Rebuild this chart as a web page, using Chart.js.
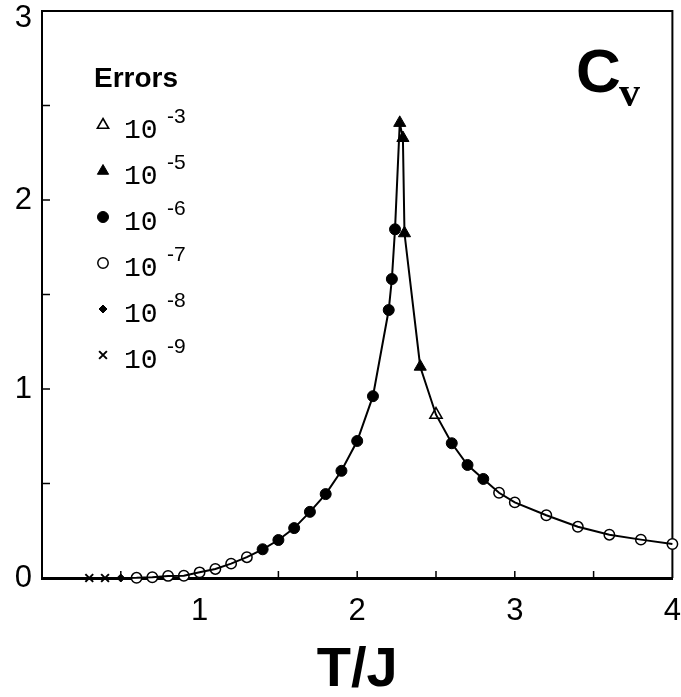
<!DOCTYPE html>
<html><head><meta charset="utf-8">
<script src="https://cdn.jsdelivr.net/npm/chart.js@4.4.1/dist/chart.umd.min.js"></script>
<style>html,body{margin:0;padding:0;background:#fff;}canvas{display:block;}</style>
</head><body>
<canvas id="c" width="681" height="697"></canvas>
<script>
// ---- data ----
const temperatures = [0.3,0.4,0.5,0.6,0.7,0.8,0.9,1.0,1.1,1.2,1.3,1.4,1.5,1.6,1.7,1.8,1.9,2.0,2.1,2.2,2.22,2.24,2.27,2.29,2.30,2.4,2.5,2.6,2.7,2.8,2.9,3.0,3.2,3.4,3.6,3.8,4.0];
const specificHeat = [0,0,0,0.001,0.004,0.011,0.012,0.03,0.048,0.076,0.11,0.152,0.201,0.264,0.35,0.444,0.567,0.725,0.962,1.418,1.582,1.845,2.408,2.328,1.824,1.118,0.864,0.713,0.598,0.524,0.451,0.40,0.332,0.271,0.229,0.203,0.18];
const errorExponent = [-9,-9,-8,-7,-7,-7,-7,-7,-7,-7,-7,-6,-6,-6,-6,-6,-6,-6,-6,-6,-6,-6,-5,-5,-5,-5,-3,-6,-6,-6,-7,-7,-7,-7,-7,-7,-7];
const legendExponents = [-3,-5,-6,-7,-8,-9];
const xTickValues = [1,2,3,4];
const yTickValues = [0,1,2,3];
const minorTickValuesX = [0.5,1,1.5,2,2.5,3,3.5];
const minorTickValuesY = [0.5,1,1.5,2,2.5];

// ---- marker styles per error class ----
const markerStyle = {
  '-3': {pointStyle:'triangle', radius:7, backgroundColor:'#fff', borderColor:'#000', borderWidth:1.6},
  '-5': {pointStyle:'triangle', radius:7, backgroundColor:'#000', borderColor:'#000', borderWidth:1},
  '-6': {pointStyle:'circle', radius:5.5, backgroundColor:'#000', borderColor:'#000', borderWidth:1},
  '-7': {pointStyle:'circle', radius:5.2, backgroundColor:'#fff', borderColor:'#000', borderWidth:1.5},
  '-8': {pointStyle:'rectRot', radius:4, backgroundColor:'#000', borderColor:'#000', borderWidth:1},
  '-9': {pointStyle:'crossRot', radius:5.5, backgroundColor:'#000', borderColor:'#000', borderWidth:2}
};

const linePoints = temperatures.map((t,i)=>({x:t,y:specificHeat[i]}));
const markerSets = legendExponents.map(e=>{
  const s = markerStyle[String(e)];
  return {
    type:'scatter',
    label:'10^'+e,
    data: temperatures.map((t,i)=>({x:t,y:specificHeat[i],e:errorExponent[i]})).filter(p=>p.e===e),
    pointStyle:s.pointStyle, pointRadius:s.radius, pointHoverRadius:s.radius,
    pointBackgroundColor:s.backgroundColor, pointBorderColor:s.borderColor,
    pointBorderWidth:s.borderWidth, showLine:false, clip:false
  };
});

const SANS = '"Liberation Sans", Arial, sans-serif';

const framePlugin = {
  id:'frame',
  beforeDatasetsDraw(chart){
    const {ctx, chartArea:a, scales:{x,y}} = chart;
    ctx.save();
    ctx.strokeStyle = '#000';
    ctx.lineWidth = 2;
    ctx.beginPath();
    ctx.moveTo(a.left, a.top); ctx.lineTo(a.right, a.top); ctx.lineTo(a.right, a.bottom);
    ctx.stroke();
    ctx.lineWidth = 1.5;
    ctx.beginPath();
    minorTickValuesX.forEach(v=>{const px=x.getPixelForValue(v); ctx.moveTo(px,a.bottom); ctx.lineTo(px,a.bottom-7);});
    minorTickValuesY.forEach(v=>{const py=y.getPixelForValue(v); ctx.moveTo(a.left,py); ctx.lineTo(a.left+8,py);});
    ctx.stroke();
    ctx.restore();
  },
  afterDraw(chart){
    const ctx = chart.ctx;
    ctx.save();
    ctx.fillStyle = '#000';
    ctx.textBaseline = 'alphabetic';
    ctx.textAlign = 'left';
    // C_v label
    ctx.font = 'bold 62px ' + SANS;
    ctx.fillText('C', 576, 92);
    ctx.font = 'bold 42px "Liberation Serif", "Times New Roman", serif';
    ctx.fillText('v', 619, 106);
    // legend
    ctx.font = 'bold 28px ' + SANS;
    ctx.fillText('Errors', 94, 87);
    legendExponents.forEach((e,i)=>{
      const cy = 125 + 46*i;
      const s = markerStyle[String(e)];
      ctx.fillStyle = s.backgroundColor; ctx.strokeStyle = s.borderColor; ctx.lineWidth = s.borderWidth;
      Chart.helpers.drawPoint(ctx, {pointStyle:s.pointStyle, radius:s.pointStyle==='triangle'?6.5:s.radius, rotation:0, borderWidth:s.borderWidth}, 103, cy);
      ctx.fillStyle = '#000';
      ctx.font = '28px "Liberation Mono", "Courier New", monospace';
      ctx.fillText('10', 124, cy + 13);
      ctx.font = '21px ' + SANS;
      ctx.fillText(String(e), 167, cy - 2);
    });
    ctx.restore();
  }
};

new Chart(document.getElementById('c'), {
  type:'line',
  data:{
    datasets:[
      {type:'line', label:'Cv', data:linePoints, borderColor:'#000', borderWidth:2, pointRadius:0, tension:0, fill:false, clip:false},
      ...markerSets
    ]
  },
  options:{
    responsive:false, animation:false, devicePixelRatio:1,
    layout:{padding:{top:11, right:5, left:0, bottom:0}},
    plugins:{legend:{display:false}, tooltip:{enabled:false}},
    scales:{
      x:{
        type:'linear', min:0, max:4,
        afterBuildTicks(s){ s.ticks = xTickValues.map(v=>({value:v})); },
        afterFit(s){ s.height = 119; s.paddingLeft = 0; s.paddingRight = 0; },
        grid:{display:false, drawTicks:false},
        border:{display:true, color:'#000', width:3},
        ticks:{color:'#000', font:{family:SANS, size:31}, padding:15, maxRotation:0, autoSkip:false},
        title:{display:true, text:'T/J', color:'#000', font:{family:SANS, size:56, weight:'bold', lineHeight:1}, padding:{top:0, bottom:-2}}
      },
      y:{
        type:'linear', min:0, max:3,
        afterBuildTicks(s){ s.ticks = yTickValues.map(v=>({value:v})); },
        afterFit(s){ s.width = 42; s.paddingTop = 0; s.paddingBottom = 0; },
        grid:{display:false, drawTicks:false},
        border:{display:true, color:'#000', width:2},
        ticks:{
          color:'#000', padding:10, autoSkip:false,
          // top label is pushed down inside the canvas, as in the reference
          callback:(v)=> v === 3 ? ['', '3'] : String(v),
          font:(ctx)=>({family:SANS, size:31, lineHeight: (ctx.tick && ctx.tick.value === 3) ? 0.45 : 1.2})
        }
      }
    }
  },
  plugins:[framePlugin]
});
</script>
</body></html>
